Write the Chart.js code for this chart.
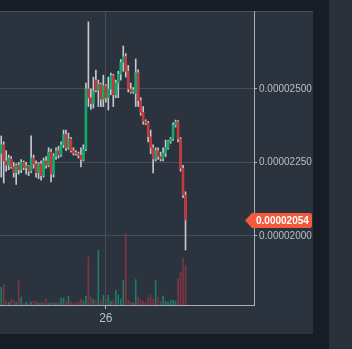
<!DOCTYPE html>
<html><head><meta charset="utf-8">
<script src="https://cdn.jsdelivr.net/npm/chart.js@4"></script>
<style>html,body{margin:0;padding:0;background:#161d26;overflow:hidden}canvas{display:block}</style>
</head><body>
<canvas id="c" width="352" height="349"></canvas>
<script>
// OHLC values (price), one candle per slot
const opens = [0.00002280,0.00002310,0.00002255,0.00002240,0.00002262,0.00002235,0.00002215,0.00002240,0.00002225,0.00002250,
0.00002232,0.00002238,0.00002220,0.00002265,0.00002245,0.00002215,0.00002245,0.00002205,0.00002255,0.00002240,
0.00002285,0.00002210,0.00002270,0.00002290,0.00002275,0.00002310,0.00002345,0.00002300,0.00002330,0.00002290,
0.00002282,0.00002280,0.00002275,0.00002260,0.00002295,0.00002500,0.00002470,0.00002450,0.00002530,0.00002496,
0.00002515,0.00002465,0.00002510,0.00002470,0.00002500,0.00002545,0.00002480,0.00002520,0.00002550,0.00002590,
0.00002610,0.00002560,0.00002500,0.00002490,0.00002485,0.00002555,0.00002460,0.00002420,0.00002390,0.00002384,
0.00002337,0.00002300,0.00002262,0.00002290,0.00002270,0.00002262,0.00002282,0.00002300,0.00002322,0.00002330,
0.00002377,0.00002388,0.00002330,0.00002230,0.00002139];
const highs = [0.00002340,0.00002320,0.00002290,0.00002275,0.00002270,0.00002250,0.00002245,0.00002250,0.00002260,0.00002255,
0.00002250,0.00002240,0.00002340,0.00002275,0.00002255,0.00002250,0.00002255,0.00002265,0.00002270,0.00002300,
0.00002295,0.00002280,0.00002300,0.00002305,0.00002320,0.00002360,0.00002360,0.00002350,0.00002335,0.00002300,
0.00002290,0.00002285,0.00002300,0.00002310,0.00002520,0.00002728,0.00002500,0.00002540,0.00002564,0.00002530,
0.00002520,0.00002547,0.00002515,0.00002540,0.00002554,0.00002550,0.00002530,0.00002560,0.00002600,0.00002646,
0.00002620,0.00002580,0.00002520,0.00002505,0.00002602,0.00002565,0.00002470,0.00002440,0.00002395,0.00002390,
0.00002360,0.00002310,0.00002300,0.00002300,0.00002285,0.00002300,0.00002326,0.00002325,0.00002335,0.00002385,
0.00002394,0.00002392,0.00002335,0.00002240,0.00002150];
const lows = [0.00002200,0.00002180,0.00002220,0.00002225,0.00002230,0.00002200,0.00002175,0.00002210,0.00002215,0.00002225,
0.00002210,0.00002205,0.00002215,0.00002230,0.00002200,0.00002195,0.00002190,0.00002200,0.00002230,0.00002235,
0.00002184,0.00002200,0.00002260,0.00002265,0.00002270,0.00002300,0.00002290,0.00002295,0.00002285,0.00002275,
0.00002275,0.00002265,0.00002235,0.00002255,0.00002290,0.00002440,0.00002430,0.00002435,0.00002490,0.00002440,
0.00002440,0.00002440,0.00002455,0.00002428,0.00002480,0.00002440,0.00002470,0.00002470,0.00002530,0.00002560,
0.00002540,0.00002490,0.00002485,0.00002485,0.00002440,0.00002440,0.00002410,0.00002380,0.00002378,0.00002320,
0.00002280,0.00002214,0.00002255,0.00002260,0.00002255,0.00002255,0.00002270,0.00002295,0.00002315,0.00002325,
0.00002370,0.00002320,0.00002220,0.00002130,0.00001952];
const closes = [0.00002310,0.00002255,0.00002240,0.00002265,0.00002235,0.00002215,0.00002240,0.00002225,0.00002250,0.00002232,
0.00002238,0.00002220,0.00002265,0.00002245,0.00002215,0.00002245,0.00002205,0.00002255,0.00002240,0.00002285,
0.00002210,0.00002270,0.00002290,0.00002275,0.00002310,0.00002345,0.00002300,0.00002330,0.00002290,0.00002282,
0.00002280,0.00002275,0.00002260,0.00002295,0.00002500,0.00002470,0.00002450,0.00002490,0.00002496,0.00002515,
0.00002465,0.00002510,0.00002470,0.00002500,0.00002545,0.00002480,0.00002520,0.00002550,0.00002590,0.00002610,
0.00002560,0.00002500,0.00002490,0.00002496,0.00002555,0.00002460,0.00002420,0.00002390,0.00002384,0.00002337,
0.00002300,0.00002262,0.00002290,0.00002270,0.00002262,0.00002282,0.00002300,0.00002322,0.00002330,0.00002377,
0.00002388,0.00002330,0.00002230,0.00002139,0.00002054];
const volumes = [18,21,4,3,6,5,3,25,8,2,
3,2,3,4,4,2,3,2,6,2,
3,2,2,3,7,7,4,9,3,2,
2,3,6,4,9,49,8,6,5,56,
4,10,6,10,4,5,15,10,6,25,
73,5,3,2,26,8,5,4,3,8,
10,6,25,8,4,9,4,3,5,5,
4,27,33,48,40];
const totalSlots = 102;
const xTickPositions = [42];
const xTickLabels = ['26'];
const yTickValues = [0.00002000, 0.00002250, 0.00002500];
const yMin = 0.00001765, yMax = 0.00002765;
const volMax = 300;

const FONT = "'Liberation Sans', Arial, Helvetica, sans-serif";
const idx = closes.map((_, i) => i);
const up = closes.map((c, i) => c >= opens[i]);
const lastPrice = closes[closes.length - 1];

const bgPlugin = {
  id: 'bg',
  beforeDraw(chart) {
    const c = chart.ctx, a = chart.chartArea, W = chart.width, H = chart.height;
    const panelRight = a.right + chart.scales.y.width;
    const panelBottom = a.bottom + chart.scales.x.height;
    c.save();
    c.fillStyle = '#161d26'; c.fillRect(0, 0, W, H);
    c.fillStyle = '#2b333e'; c.fillRect(0, a.top, panelRight, panelBottom - a.top);
    c.fillStyle = '#29303a'; c.fillRect(panelRight + 16, 0, W - panelRight - 16, H);
    c.fillStyle = '#4a525e'; c.fillRect(0, a.top, panelRight, 1);
    c.restore();
  }
};
const pricePlugin = {
  id: 'price',
  afterDraw(chart) {
    const c = chart.ctx, a = chart.chartArea;
    const y = Math.round(chart.scales.y.getPixelForValue(lastPrice)) + 0.5;
    const tip = a.right - 9, x0 = a.right - 2, x1 = a.right + 58, h = 7.5;
    c.save();
    c.fillStyle = '#f25a3b';
    c.beginPath();
    c.moveTo(tip, y); c.lineTo(x0, y - h); c.lineTo(x1 - 2, y - h);
    c.quadraticCurveTo(x1, y - h, x1, y - h + 2);
    c.lineTo(x1, y + h - 2); c.quadraticCurveTo(x1, y + h, x1 - 2, y + h);
    c.lineTo(x0, y + h); c.closePath(); c.fill();
    c.fillStyle = '#ffffff';
    c.font = 'bold 10px ' + FONT;
    c.textBaseline = 'middle'; c.textAlign = 'left';
    c.fillText(lastPrice.toFixed(8), a.right + 2, y + 0.5);
    c.restore();
  }
};

new Chart(document.getElementById('c'), {
  data: {
    datasets: [
      { type: 'bar', label: 'body', data: idx.map(i => ({ x: i, y: [opens[i], closes[i]] })),
        backgroundColor: up.map(u => u ? '#13a86a' : '#c23a3c'), barThickness: 2, grouped: false,
        minBarLength: 1, order: 0, yAxisID: 'y', xAxisID: 'x' },
      { type: 'bar', label: 'wick', data: idx.map(i => ({ x: i, y: [lows[i], highs[i]] })),
        backgroundColor: '#c3c8d0', barThickness: 1, grouped: false, order: 1, yAxisID: 'y', xAxisID: 'x' },
      { type: 'bar', label: 'volume', data: idx.map(i => ({ x: i, y: volumes[i] })),
        backgroundColor: up.map(u => u ? 'rgba(28,160,125,0.65)' : 'rgba(180,55,70,0.6)'),
        barThickness: 1, grouped: false, order: 2, yAxisID: 'v', xAxisID: 'x' }
    ]
  },
  options: {
    responsive: false, animation: false, devicePixelRatio: 1,
    layout: { padding: { left: 0, top: 11, right: 39, bottom: 15 } },
    plugins: { legend: { display: false }, tooltip: { enabled: false } },
    scales: {
      x: {
        type: 'linear', min: -0.5, max: totalSlots - 0.5, offset: false,
        afterBuildTicks: s => { s.ticks = xTickPositions.map(v => ({ value: v })); },
        ticks: { callback: v => xTickLabels[xTickPositions.indexOf(v)] ?? '', color: '#b9bfc7',
                 font: { size: 12, family: FONT }, padding: 2, maxRotation: 0, autoSkip: false },
        grid: { color: '#454e5a', tickColor: '#b0b6be', tickLength: 4, offset: false },
        border: { color: '#a9afb7' },
        afterFit: s => { s.height = 29; }
      },
      y: {
        position: 'right', min: yMin, max: yMax,
        afterBuildTicks: s => { s.ticks = yTickValues.map(v => ({ value: v })); },
        ticks: { callback: v => Number(v).toFixed(8), color: '#b9bfc7', font: { size: 10, family: FONT }, padding: 2 },
        grid: { color: '#454e5a', tickColor: '#b0b6be', tickLength: 3 },
        border: { color: '#a9afb7' },
        afterFit: s => { s.width = 59; }
      },
      v: { display: false, min: 0, max: volMax }
    }
  },
  plugins: [bgPlugin, pricePlugin]
});
</script>
</body></html>
